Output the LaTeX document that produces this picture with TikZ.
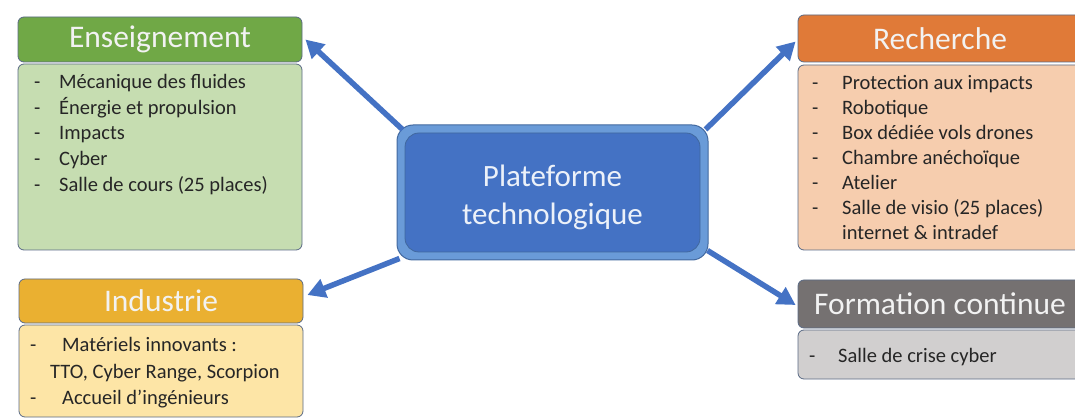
\documentclass[tikz,border=0pt]{standalone}
\usepackage{fontspec}
\setmainfont{Carlito}
\usetikzlibrary{arrows.meta}
\definecolor{bordc}{HTML}{5A6A85}
\definecolor{ensH}{HTML}{70A846}
\definecolor{ensB}{HTML}{C6DDB1}
\definecolor{recH}{HTML}{E07A38}
\definecolor{recB}{HTML}{F6CDAE}
\definecolor{indH}{HTML}{EAB031}
\definecolor{indB}{HTML}{FDE5A6}
\definecolor{forH}{HTML}{757171}
\definecolor{forB}{HTML}{D1CFCF}
\definecolor{blueA}{HTML}{4472C4}
\definecolor{blueO}{HTML}{6A9BD8}
\definecolor{blueD}{HTML}{41689F}
\definecolor{txt}{HTML}{262626}
\tikzset{
  hdr/.style={draw=bordc, line width=0.8pt, rounded corners=6pt, minimum width=284pt, text=white!95!black, font=\fontsize{31.5}{34}\selectfont, inner sep=0pt},
  bodybox/.style={draw=bordc, line width=0.8pt, rounded corners=6pt, minimum width=284pt, inner sep=0pt},
  itm/.style={anchor=west, text=txt, font=\fontsize{20.5}{24}\selectfont, inner sep=0pt, text height=14pt, text depth=4pt, yshift=-3pt},
  conn/.style={draw=blueA, line width=5.5pt, -{Triangle[length=18pt,width=19pt]}},
}
\begin{document}
\begin{tikzpicture}[x=1pt,y=-1pt]
\useasboundingbox (0,0) rectangle (1075,419);
\begin{scope}
\clip (0,0) rectangle (1075,419);
% Enseignement
\node[hdr, fill=ensH, minimum height=45pt] (ens) at (160,39.5) {Enseignement};
\node[bodybox, fill=ensB, minimum height=186pt] (ensb) at (160,157) {};
\node[itm] (e1d) at (34,81) {-};
\node[itm] (e1) at (59,81) {Mécanique des fluides};
\node[itm] (e2d) at (34,107) {-};
\node[itm] (e2) at (59,107) {Énergie et propulsion};
\node[itm] (e3d) at (34,132) {-};
\node[itm] (e3) at (59,132) {Impacts};
\node[itm] (e4d) at (34,158) {-};
\node[itm] (e4) at (59,158) {Cyber};
\node[itm] (e5d) at (34,184) {-};
\node[itm] (e5) at (59,184) {Salle de cours (25 places)};
% Recherche
\node[hdr, fill=recH, minimum height=47pt] (rec) at (940,38.5) {Recherche};
\node[bodybox, fill=recB, minimum height=185pt] (recb) at (940,157.5) {};
\node[itm] (r1d) at (812,82) {-};
\node[itm] (r1) at (842,82) {Protection aux impacts};
\node[itm] (r2d) at (812,107) {-};
\node[itm] (r2) at (842,107) {Robotique};
\node[itm] (r3d) at (812,132) {-};
\node[itm] (r3) at (842,132) {Box dédiée vols drones};
\node[itm] (r4d) at (812,157) {-};
\node[itm] (r4) at (842,157) {Chambre anéchoïque};
\node[itm] (r5d) at (812,182) {-};
\node[itm] (r5) at (842,182) {Atelier};
\node[itm] (r6d) at (812,207) {-};
\node[itm] (r6) at (842,207) {Salle de visio (25 places)};
\node[itm] (r7) at (842,232) {internet \& intradef};
% Industrie
\node[hdr, fill=indH, minimum height=44pt] (ind) at (161,301) {Industrie};
\node[bodybox, fill=indB, minimum height=92pt] (indb) at (161,371) {};
\node[itm] (i1d) at (30,343) {-};
\node[itm] (i1) at (62,343) {Matériels innovants :};
\node[itm] (i2) at (50,370) {TTO, Cyber Range, Scorpion};
\node[itm] (i3d) at (30,396) {-};
\node[itm] (i3) at (62,396) {Accueil d’ingénieurs};
% Formation continue
\node[hdr, fill=forH, minimum height=48pt] (for) at (940,304) {Formation continue};
\node[bodybox, fill=forB, minimum height=49pt] (forb) at (940,354.5) {};
\node[itm] (f1d) at (809,354) {-};
\node[itm] (f1) at (838,354) {Salle de crise cyber};
\end{scope}
% Central
\node[draw=blueD, line width=1pt, fill=blueO, rounded corners=16pt, minimum width=311pt, minimum height=135pt] (plat) at (552.5,192.5) {};
\node[draw=blueD, line width=0.8pt, fill=blueA, rounded corners=14pt, minimum width=295pt, minimum height=119pt] (plati) at (plat.center) {};
\node[text=white!90!blueA, font=\fontsize{31}{38}\selectfont, align=center] (platt) at ([yshift=-5pt]plat.center) {Plateforme\\technologique};
% Connectors
\draw[conn] ([shift={(6,5)}]plat.north west) -- ([shift={(3,0)}]ens.east);
\draw[conn] ([shift={(-3,5)}]plat.north east) -- ([shift={(-2,3)}]rec.west);
\draw[conn] ([shift={(3,-2)}]plat.south west) -- ([shift={(4,-6)}]ind.east);
\draw[conn] ([shift={(-1,-10)}]plat.south east) -- ([shift={(-2,1)}]for.west);
\end{tikzpicture}
\end{document}
